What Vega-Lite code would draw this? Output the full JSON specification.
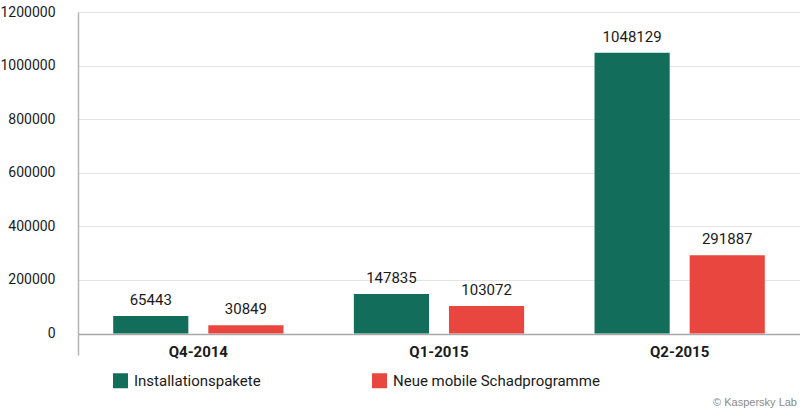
{
  "$schema": "https://vega.github.io/schema/vega-lite/v6.json",
  "autosize": "none",
  "width": 722,
  "height": 343,
  "padding": {"left": 78, "top": 12, "right": 0, "bottom": 56},
  "background": "white",
  "config": {
    "view": {"stroke": null},
    "font": "Roboto, sans-serif"
  },
  "title": {
    "text": "© Kaspersky Lab",
    "orient": "bottom",
    "anchor": "end",
    "font": "Liberation Sans, Arial, sans-serif",
    "fontSize": 11,
    "fontWeight": "normal",
    "color": "#8a8a8a",
    "offset": 8,
    "dx": -3
  },
  "data": {
    "values": [
      {"quarter": "Q4-2014", "series": "Installationspakete", "value": 65443},
      {"quarter": "Q4-2014", "series": "Neue mobile Schadprogramme", "value": 30849},
      {"quarter": "Q1-2015", "series": "Installationspakete", "value": 147835},
      {"quarter": "Q1-2015", "series": "Neue mobile Schadprogramme", "value": 103072},
      {"quarter": "Q2-2015", "series": "Installationspakete", "value": 1048129},
      {"quarter": "Q2-2015", "series": "Neue mobile Schadprogramme", "value": 291887}
    ]
  },
  "encoding": {
    "x": {
      "field": "quarter",
      "type": "nominal",
      "sort": ["Q4-2014", "Q1-2015", "Q2-2015"],
      "scale": {"paddingInner": 0, "paddingOuter": 0},
      "axis": {
        "title": null,
        "domain": false,
        "ticks": false,
        "labelAngle": 0,
        "labelFontWeight": "bold",
        "labelFontSize": 15,
        "labelColor": "#1a1a1a",
        "labelBaseline": "middle",
        "labelPadding": -4
      }
    },
    "xOffset": {
      "field": "series",
      "type": "nominal",
      "scale": {"paddingInner": 0.21, "paddingOuter": 0.37}
    },
    "y": {
      "field": "value",
      "type": "quantitative",
      "scale": {"domain": [-80000, 1200000], "nice": false, "zero": false},
      "axis": {
        "title": null,
        "values": [0, 200000, 400000, 600000, 800000, 1000000, 1200000],
        "format": "d",
        "ticks": false,
        "labelPadding": 23,
        "labelFontSize": 14,
        "labelColor": "#1a1a1a",
        "domainColor": "#b5b5b5",
        "domainWidth": 1.5,
        "gridColor": {"condition": {"test": "datum.value === 0", "value": "#a8a8a8"}, "value": "#e3e3e3"},
        "gridWidth": {"condition": {"test": "datum.value === 0", "value": 1.5}, "value": 1}
      }
    }
  },
  "layer": [
    {
      "mark": {"type": "bar"},
      "encoding": {
        "y2": {"datum": 0},
        "color": {
          "field": "series",
          "type": "nominal",
          "scale": {"domain": ["Installationspakete", "Neue mobile Schadprogramme"], "range": ["#126e5a", "#e8463f"]},
          "legend": {
            "title": null,
            "orient": "none",
            "legendX": 35,
            "legendY": 361,
            "direction": "horizontal",
            "symbolType": "square",
            "symbolSize": 225,
            "symbolStrokeWidth": 0,
            "symbolOpacity": 1,
            "labelFontSize": 15,
            "labelLimit": 400,
            "labelColor": "#1a1a1a",
            "labelOffset": 6,
            "columnPadding": 111
          }
        }
      }
    },
    {
      "mark": {"type": "text", "baseline": "alphabetic", "dy": -11, "fontSize": 15, "color": "#1a1a1a"},
      "encoding": {
        "text": {"field": "value", "type": "quantitative", "format": "d"}
      }
    }
  ]
}
